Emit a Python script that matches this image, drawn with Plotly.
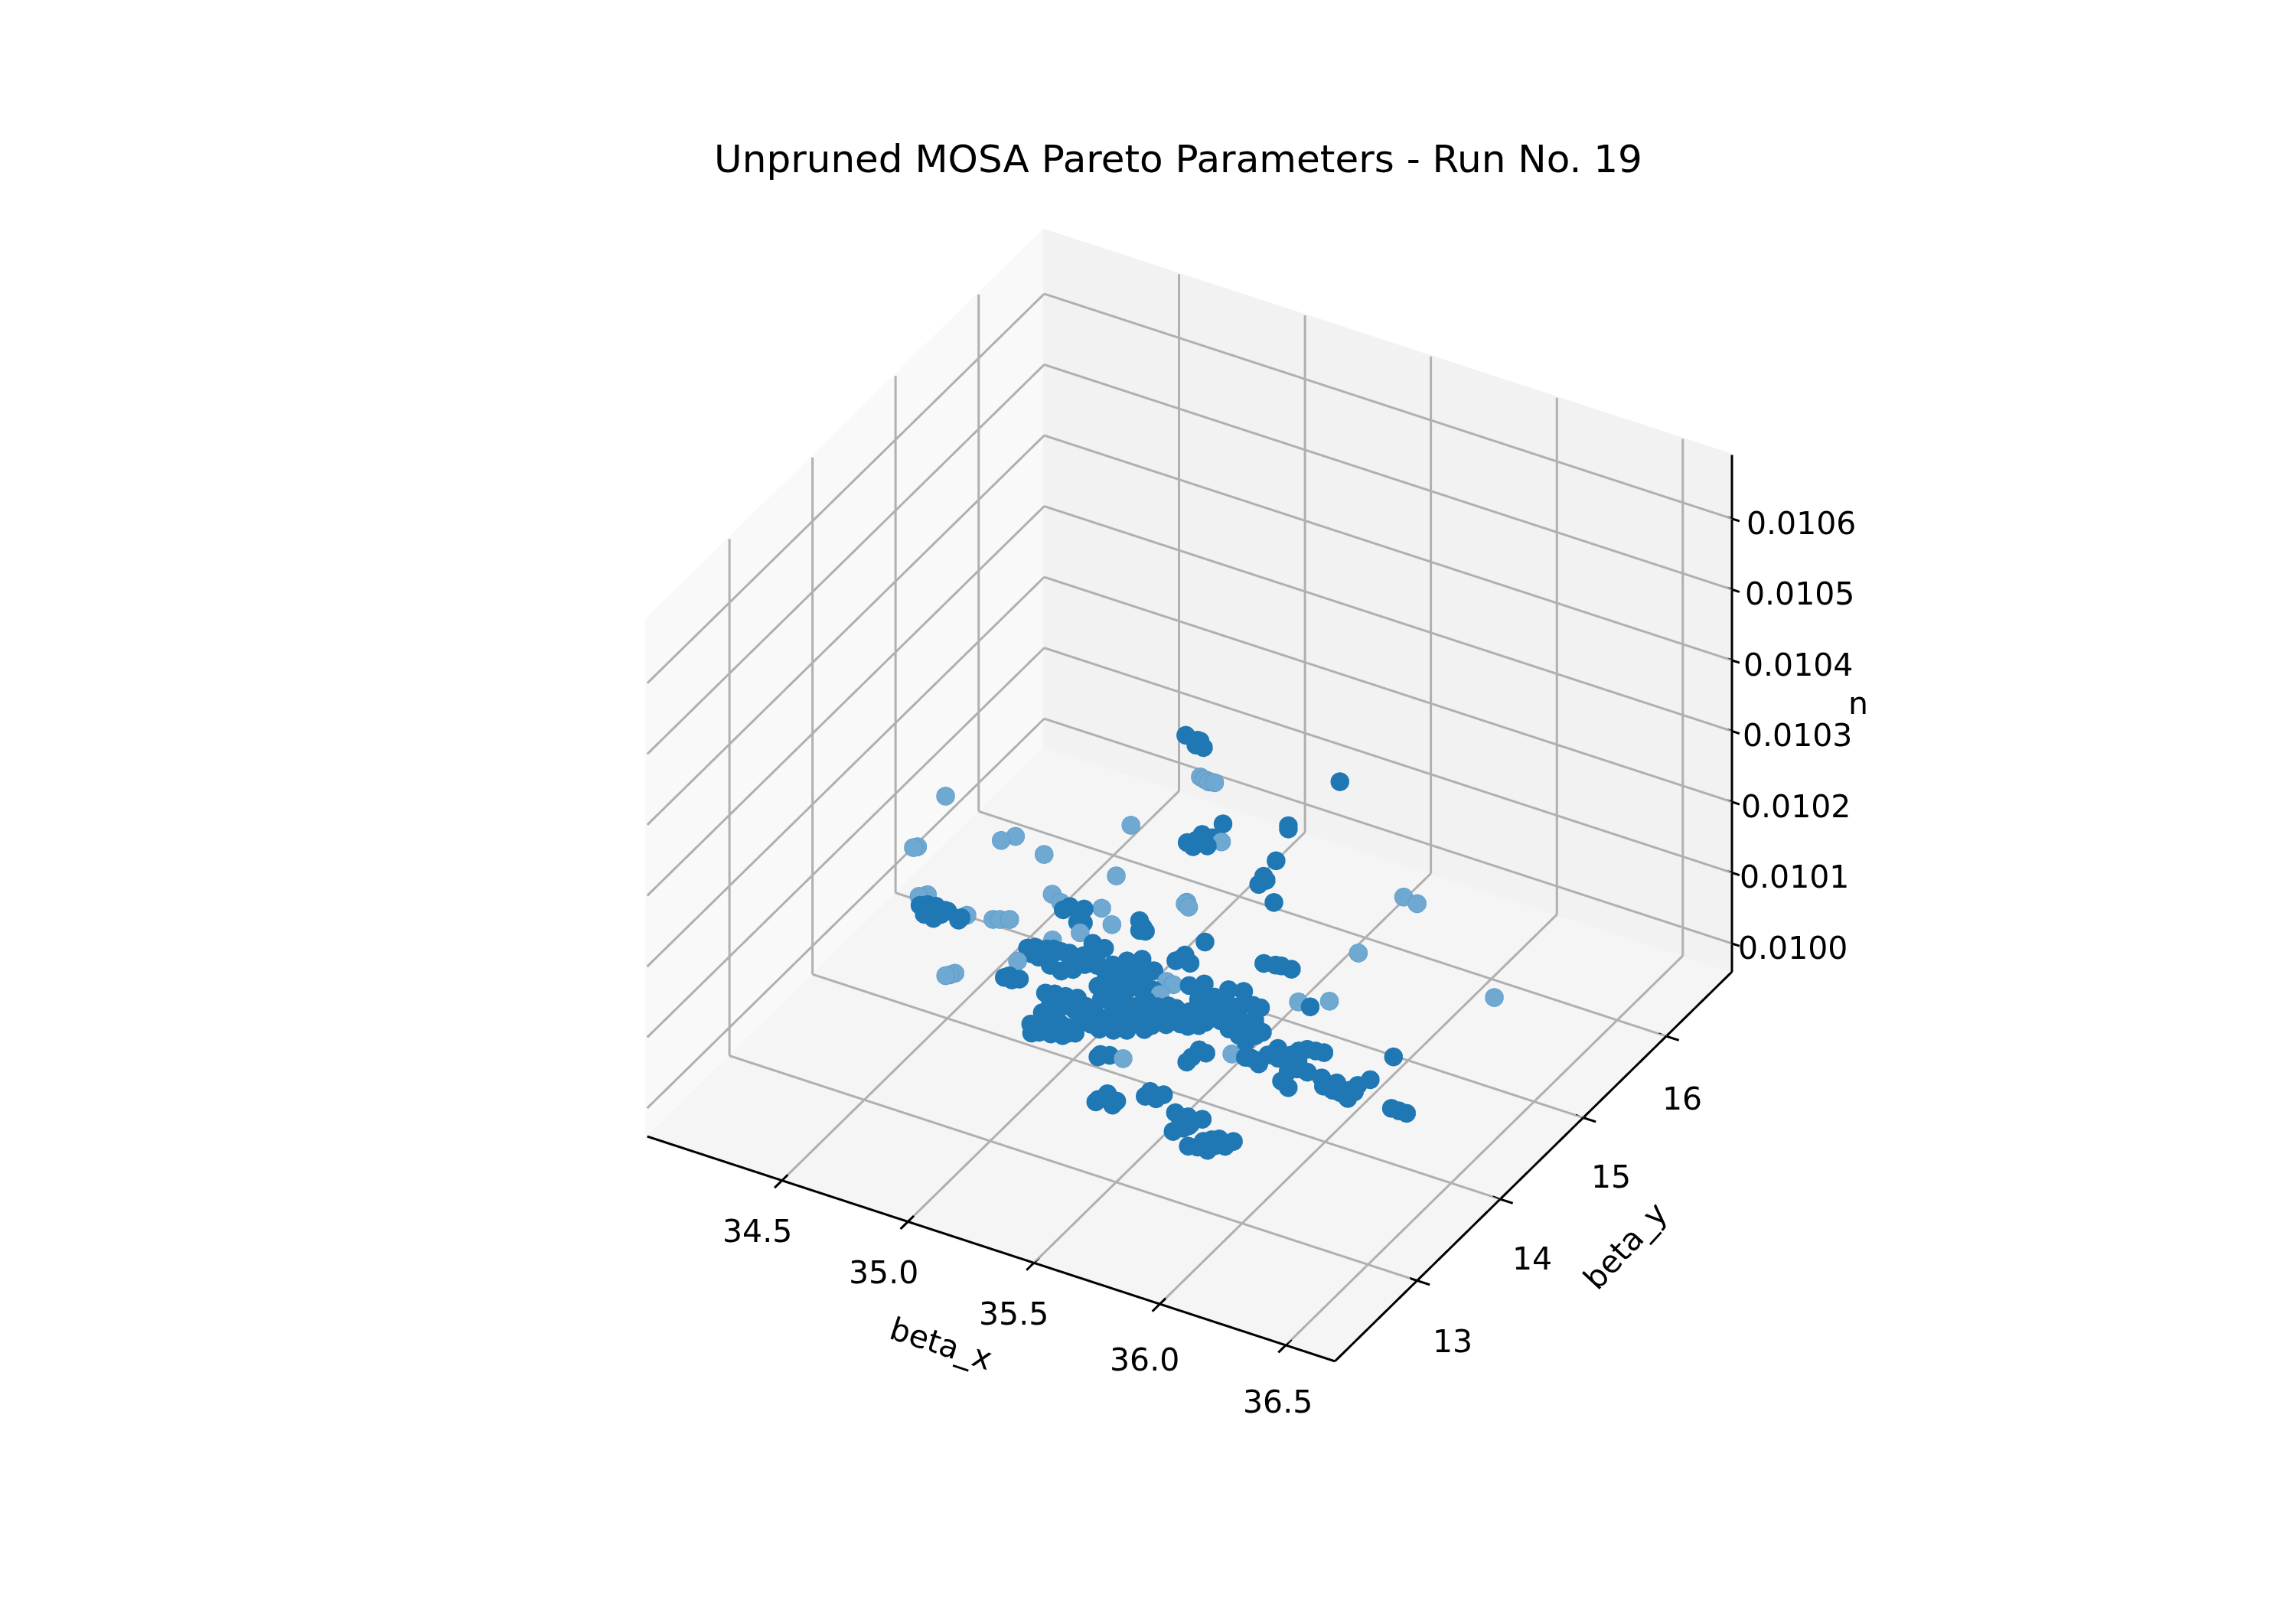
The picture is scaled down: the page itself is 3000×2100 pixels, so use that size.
import math
import plotly.graph_objects as go

# Solid-looking markers, by height level
x_high = [35.08,35.13,35.14,35.14,35.17]
y_high = [15.11,15.10,15.10,15.05,15.05]

x_mid = [35.03,34.98,35.00,35.00,35.04,35.05,35.01,
 35.25,35.23,35.24,35.30,35.32,35.31,35.33,35.42,
 35.16,35.13,35.21,35.15,35.18,35.22,35.26,35.15,35.20,35.25,35.31,35.20,35.26,35.32,35.34,35.31,35.36,35.37,35.33,35.37,35.31,35.27,35.27,35.20,35.18,
 35.41,35.47,35.45,35.51,35.54,35.44,35.50,35.46,35.54,35.58,
 35.42,35.46,35.50,35.49,35.54,35.55,35.60,35.58,35.62,35.67,35.62,35.66,35.70,35.75,35.76,35.70,35.65,35.74,35.78,35.72,35.63,
 35.17,35.12,35.33,35.42,35.30,35.20,35.27,35.39,35.42,35.50,35.57,35.43,
 35.59,35.67,35.72,35.77,35.64,35.53]
y_mid = [15.71,15.43,15.48,15.55,15.55,15.46,15.41,
 16.45,15.89,15.86,15.53,15.26,15.35,15.32,15.14,
 14.16,14.08,14.14,13.94,14.04,14.05,14.07,13.84,13.86,13.91,13.91,13.73,13.77,13.76,13.85,13.63,13.61,13.52,13.48,13.72,13.75,13.66,13.95,13.95,13.84,
 13.79,13.69,13.87,13.74,13.74,13.69,13.88,13.78,13.83,13.83,
 14.12,14.18,14.08,14.02,13.97,14.20,14.23,14.04,14.06,14.13,13.89,13.93,13.95,13.93,13.77,14.13,13.99,13.89,13.91,14.00,13.90,
 14.00,14.01,13.97,13.58,13.54,14.22,14.15,13.83,13.87,13.81,13.78,13.64,
 13.95,13.84,13.81,13.86,14.11,14.09]

x_low = [34.18,34.22,34.25,34.25,34.24,34.20,34.26,34.32,34.32,34.18,34.21,34.16,
 34.60,34.61,34.65,34.66,34.68,34.70,34.67,
 34.86,34.89,34.91,34.89,
 35.12,35.09,35.10,35.14,35.10,
 34.64,34.63,34.68,34.66,
 34.61,34.63,34.64,34.67,34.69,34.67,34.72,34.75,34.73,34.78,34.78,34.81,34.83,34.80,34.79,34.81,34.87,34.84,34.84,
 34.80,34.83,34.87,34.91,34.96,35.01,35.05,34.88,34.91,35.03,35.08,34.94,34.98,35.07,
 34.85,34.85,34.90,34.89,34.94,34.98,34.99,34.88,34.89,34.90,34.94,34.89,
 35.15,35.15,35.18,35.43,35.43,35.43,35.46,
 35.28,35.29,35.34,35.34,35.28,35.41,35.41,35.45,35.46,
 35.55,35.60,35.65,35.60,35.62,35.63,35.69,35.72,35.74,35.76,35.76,35.81,35.80,
 35.59,35.64,35.65,35.66,35.72,35.75,35.81,35.78,35.65,35.76,35.76,35.77,35.81,35.82,35.88,35.91,35.94,36.00,36.02,36.01,36.03,35.95,
 36.03,36.18,36.21,36.24,35.36,35.40,35.42,35.46,35.63,
 34.84,34.89,34.97,35.03,35.08,34.87,34.94,34.97,35.01,
 35.78,35.73,35.98,36.02,35.61,35.69,35.72,35.77,35.63,35.59]
y_low = [14.68,14.68,14.73,14.68,14.62,14.63,14.73,14.68,14.71,14.73,14.74,14.70,
 15.09,15.14,15.12,15.16,15.02,15.03,15.09,
 15.22,15.13,15.14,15.17,
 15.22,14.96,15.04,14.98,15.00,
 14.32,14.29,14.32,14.29,
 14.63,14.66,14.59,14.68,14.70,14.58,14.70,14.71,14.54,14.52,14.64,14.57,14.65,14.73,14.87,14.80,14.68,14.86,14.76,
 14.27,14.29,14.30,14.32,14.27,14.23,14.21,14.18,14.22,14.12,14.23,14.20,14.15,14.10,
 14.08,13.94,13.89,14.01,13.96,13.93,13.97,13.86,14.07,13.95,14.03,14.13,
 13.87,13.84,13.89,14.21,14.12,14.06,14.20,
 13.45,13.53,13.44,13.49,13.42,13.62,13.68,13.63,13.69,
 13.56,13.56,13.58,13.38,13.44,13.50,13.29,13.31,13.42,13.31,13.45,13.47,13.40,
 14.28,14.29,14.37,14.46,14.44,14.54,14.56,14.55,14.26,14.40,14.28,14.17,14.13,14.33,14.32,14.25,14.32,14.29,14.21,14.36,14.45,14.24,
 14.73,14.25,14.25,14.25,15.20,15.22,15.23,15.23,14.94,
 14.21,14.26,14.21,14.15,14.16,13.98,13.91,14.02,13.99,
 14.33,14.50,14.24,14.29,14.29,14.37,13.38,13.38,13.48,13.50]

# Pale, isolated markers
x_pale_high = [35.25,35.27,35.29,35.31]
y_pale_high = [14.77,14.76,14.75,14.76]
x_pale_mid = [35.08,34.12,34.18,34.19,34.42,34.45,34.59,34.76,34.87,35.79,35.85,35.16,35.18,35.16,35.34,35.37,35.36]
y_pale_mid = [15.54,15.13,14.56,14.58,14.89,14.97,14.89,15.42,14.91,15.58,15.56,14.86,14.84,14.88,14.09,14.08,13.95]
x_pale_low = [34.13,34.15,34.33,34.42,34.44,34.47,34.52,34.57,34.71,34.79,34.46,34.45,34.47,34.62,34.66,34.72,35.23,35.54,35.58,35.67,35.61,36.15]
y_pale_low = [14.78,14.82,14.75,14.79,14.81,14.84,15.20,15.15,15.22,15.10,14.15,14.13,14.18,14.48,14.78,14.93,13.90,14.27,14.95,15.05,15.58,15.58]

n_levels = [0.0103, 0.0101, 0.0100]
x_ticks = [34.5, 35.0, 35.5, 36.0, 36.5]
y_ticks = [13, 14, 15, 16]
n_ticks = [0.0100, 0.0101, 0.0102, 0.0103, 0.0104, 0.0105, 0.0106]
title_text = "Unpruned MOSA Pareto Parameters - Run No. 19"

XR = [33.965, 36.695]
YR = [12.01, 16.79]
ZR = [0.00996, 0.01069]
XM, YM, ZM = 0.12, 0.2, 0.00002   # room outside the box so tick marks are not clipped

ELEV, AZIM = math.radians(34.5), math.radians(-60)
R = 2.0
CX, CY, CZ = 0.0064, 0.0037, -0.0067
eye = dict(x=CX+R*math.cos(ELEV)*math.cos(AZIM), y=CY+R*math.cos(ELEV)*math.sin(AZIM), z=CZ+R*math.sin(ELEV))

fig = go.Figure()

def pane(xs, ys, zs, color):
    fig.add_trace(go.Mesh3d(x=xs, y=ys, z=zs, i=[0, 0], j=[1, 2], k=[2, 3], color=color, flatshading=True,
                            lighting=dict(ambient=1, diffuse=0, specular=0, roughness=1, fresnel=0),
                            hoverinfo="skip", showscale=False))
dx, dy, dz = 0.008, 0.012, 0.000003
X0, Y1, Z0 = XR[0]-dx, YR[1]+dy, ZR[0]-dz
pane([X0]*4, [YR[0], Y1, Y1, YR[0]], [Z0, Z0, ZR[1], ZR[1]], "#f9f9f9")
pane([X0, XR[1], XR[1], X0], [Y1]*4, [Z0, Z0, ZR[1], ZR[1]], "#f2f2f2")
pane([X0, XR[1], XR[1], X0], [YR[0], YR[0], Y1, Y1], [Z0]*4, "#f5f5f5")

def segs(pairs, color, width):
    xs, ys, zs = [], [], []
    for a, b in pairs:
        xs += [a[0], b[0], None]; ys += [a[1], b[1], None]; zs += [a[2], b[2], None]
    fig.add_trace(go.Scatter3d(x=xs, y=ys, z=zs, mode="lines", showlegend=False, hoverinfo="skip",
                               line=dict(color=color, width=width)))

grid = []
for t in x_ticks:
    grid += [((t, YR[0], ZR[0]), (t, YR[1], ZR[0])), ((t, YR[1], ZR[0]), (t, YR[1], ZR[1]))]
for t in y_ticks:
    grid += [((XR[1], t, ZR[0]), (XR[0], t, ZR[0])), ((XR[0], t, ZR[0]), (XR[0], t, ZR[1]))]
for t in n_ticks:
    grid += [((XR[0], YR[0], t), (XR[0], YR[1], t)), ((XR[0], YR[1], t), (XR[1], YR[1], t))]
segs(grid, "#b0b0b0", 6)

frame = [((XR[0], YR[0], ZR[0]), (XR[1], YR[0], ZR[0])),
         ((XR[1], YR[0], ZR[0]), (XR[1], YR[1], ZR[0])),
         ((XR[1], YR[1], ZR[0]), (XR[1], YR[1], ZR[1]))]
for t in x_ticks:
    frame.append(((t, YR[0]+0.07, ZR[0]), (t, YR[0]-0.09, ZR[0])))
for t in y_ticks:
    frame.append(((XR[1]-0.03, t, ZR[0]), (XR[1]+0.05, t, ZR[0])))
for t in n_ticks:
    frame.append(((XR[1]-0.03, YR[1], t), (XR[1]+0.03, YR[1], t)))
segs(frame, "black", 6)

DARK = dict(color="#1f77b4", line=dict(color="#1f77b4", width=2))
PALE = dict(color="#6fa8d1", line=dict(color="#4a92c6", width=2))
for xs, ys, lev, st in [(x_pale_high, y_pale_high, n_levels[0], PALE),
                        (x_pale_mid, y_pale_mid, n_levels[1], PALE),
                        (x_pale_low, y_pale_low, n_levels[2], PALE),
                        (x_high, y_high, n_levels[0], DARK),
                        (x_mid, y_mid, n_levels[1], DARK),
                        (x_low, y_low, n_levels[2], DARK)]:
    fig.add_trace(go.Scatter3d(x=xs, y=ys, z=[lev]*len(xs), mode="markers", showlegend=False,
                               marker=dict(size=14, **st)))

ann = []
def label(x, y, z, text, xs, ys, angle=0):
    ann.append(dict(x=x, y=y, z=z, text=text, showarrow=False, xanchor="center", yanchor="middle",
                    xshift=xs, yshift=ys, textangle=angle, font=dict(size=41, color="black", family="DejaVu Sans")))
x_shift = [(-32, -67), (-32, -67), (-26, -67), (-20, -73), (-11, -74)]
y_shift = [(46, -80), (42, -78), (36, -78), (21, -82)]
for t, (a, b) in zip(x_ticks, x_shift):
    label(t, YR[0], ZR[0], f"{t:.1f}", a, b)
for t, (a, b) in zip(y_ticks, y_shift):
    label(XR[1], t, ZR[0], f"{t}", a, b)
for i, t in enumerate(n_ticks):
    label(XR[1], YR[1], t, f"{t:.4f}", 80 + 1.7*i, -6)
label(35.2, YR[0], ZR[0], "beta_x", -23, -138, 18)
label(XR[1], 14.3, ZR[0], "beta_y", 131, -93, -47)
label(XR[1], YR[1], 0.01034, "n", 165, -1)

def axis(rng):
    return dict(range=rng, autorange=False, title=dict(text=""), showgrid=False, showline=False,
                showticklabels=False, ticks="", zeroline=False, showspikes=False,
                showbackground=False)

fig.update_layout(
    width=3000, height=2100,
    margin=dict(l=0, r=0, t=0, b=0),
    paper_bgcolor="white",
    font=dict(family="DejaVu Sans", color="black"),
    title=dict(text=title_text, x=0.5105, xanchor="center", y=0.905, yanchor="middle",
               font=dict(size=50, color="black")),
    scene=dict(
        domain=dict(x=[0.036, 1], y=[0.012, 1]),
        aspectmode="manual",
        aspectratio=dict(x=1+2*XM/(XR[1]-XR[0]), y=1+2*YM/(YR[1]-YR[0]), z=0.79*(1+2*ZM/(ZR[1]-ZR[0]))),
        camera=dict(eye=eye, center=dict(x=CX, y=CY, z=CZ), up=dict(x=0, y=0, z=1),
                    projection=dict(type="orthographic")),
        xaxis=axis([XR[0]-XM, XR[1]+XM]),
        yaxis=axis([YR[0]-YM, YR[1]+YM]),
        zaxis=axis([ZR[0]-ZM, ZR[1]+ZM]),
        annotations=ann,
    ),
)
fig.write_html("out.html")
